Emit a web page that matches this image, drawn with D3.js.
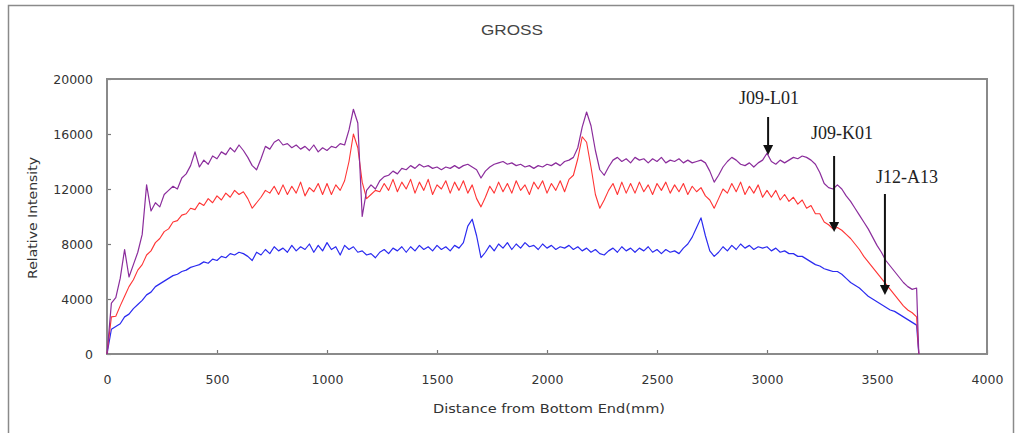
<!DOCTYPE html>
<html>
<head>
<meta charset="utf-8">
<script src="https://cdn.jsdelivr.net/npm/d3@7"></script>
<style>
  body { margin: 0; background: #fff; }
  svg { display: block; }
  .tick text { font-family: "DejaVu Sans", sans-serif; font-size: 12.5px; fill: #333; }
</style>
</head>
<body>
<div id="chart"></div>
<script>
// Distance grid (mm) shared by the three profiles, last sample is the drop at the end
const distance = d3.range(0, 3700, 20).concat([3690]);

// J09-L01 (purple)
const seriesL01 = [
  0, 3700, 4100, 5500, 7600, 5600, 6500, 7400, 8700, 12300,
  10400, 11000, 10700, 11600, 11900, 12200, 12000, 12800, 13100, 13700,
  14700, 13600, 14100, 13800, 14400, 14200, 14700, 14500, 15000, 14700,
  15200, 14800, 14300, 13700, 13400, 14200, 15100, 14900, 15400, 15600,
  15200, 15300, 15000, 15200, 14900, 15100, 14800, 15200, 14700, 15000,
  14800, 15100, 15000, 15300, 15200, 16300, 17800, 16800, 10000, 11900,
  12300, 12000, 12600, 12900, 13000, 13300, 13100, 13500, 13400, 13700,
  13500, 13800, 13600, 13700, 13500, 13600, 13400, 13600, 13500, 13700,
  13500, 13700, 13800, 13600, 13400, 12800, 13300, 13600, 13800, 13900,
  14000, 13800, 13900, 13700, 13800, 13600, 13700, 13500, 13700, 13600,
  13800, 13700, 13900, 13700, 14000, 14100, 14300, 15000, 16500, 17600,
  16600, 14800, 13400, 13000, 13600, 14100, 14300, 14000, 14200, 13900,
  14300, 14100, 14200, 13900, 14200, 14000, 14300, 13900, 14100, 14000,
  14200, 13900, 14100, 13900, 14000, 14100, 13900, 13300, 12500, 13000,
  13600, 14000, 14300, 14100, 13800, 13700, 13900, 13600, 13900, 14100,
  14600, 14000, 13800, 14100, 13900, 14100, 14300, 14200, 14400, 14300,
  14100, 13800, 13200, 12400, 12100, 12000, 12300, 12000, 11500, 11100,
  10600, 10100, 9600, 9100, 8500, 7900, 7400, 6800, 6400, 6000,
  5600, 5200, 4900, 4700, 4800, 0
];

// J09-K01 (red)
const seriesK01 = [
  0, 2700, 2750, 3500, 4200, 4900, 5400, 6100, 6500, 7200,
  7500, 8100, 8400, 8900, 9100, 9600, 9700, 10100, 10200, 10600,
  10500, 11000, 10800, 11300, 11000, 11500, 11200, 11700, 11400, 11900,
  11600, 11800, 11300, 10600, 11000, 11400, 11900, 11700, 12200, 11600,
  12300, 11600, 12200, 11700, 12500, 11500, 12100, 11800, 12400, 11600,
  12400, 11600, 12300, 11900, 12600, 14000, 16000, 15000, 12500, 11300,
  11600, 11900, 11800, 12400, 11900, 12700, 11800, 12500, 12000, 12700,
  11700, 12500, 11900, 12700, 11600, 12300, 12000, 12600, 11700, 12500,
  11900, 12600, 11700, 12300, 11300, 10700, 11400, 12200, 11700, 12500,
  11800, 12400, 11700, 12600, 11900, 12300, 11600, 12500, 12000, 12600,
  11700, 12400, 11900, 12600, 11800, 12700, 13000, 14200, 15800, 15400,
  13600, 11600, 10600, 11200, 11900, 12400, 11600, 12500, 11700, 12400,
  11700, 12500, 11800, 12300, 11600, 12400, 11900, 12500, 11700, 12300,
  11800, 12400, 11600, 12200, 11800, 12100, 11500, 11200, 10600, 11300,
  12000, 11700, 12400, 11800, 12500, 11600, 12200, 11700, 12300, 11400,
  11900, 11400, 11900, 11200, 11600, 11100, 11400, 10900, 11200, 10600,
  10800, 10200, 10200, 9600, 9400, 9100, 9200, 9000, 8700, 8400,
  8000, 7600, 7100, 6700, 6300, 5900, 5500, 5100, 4700, 4300,
  3900, 3500, 3200, 3000, 2700, 0
];

// J12-A13 (blue)
const seriesA13 = [
  0, 1800, 2000, 2200, 2700, 2900, 3300, 3600, 3900, 4300,
  4500, 4900, 5100, 5300, 5500, 5700, 5800, 6000, 6100, 6300,
  6400, 6500, 6700, 6600, 6900, 6800, 7100, 7000, 7300, 7200,
  7400, 7300, 7100, 6800, 7400, 7200, 7600, 7300, 7800, 7500,
  7700, 7400, 7900, 7500, 7800, 7600, 8000, 7400, 7900, 7500,
  8100, 7600, 7800, 7200, 7900, 7600, 7800, 7400, 7500, 7200,
  7300, 7000, 7400, 7600, 7300, 7700, 7500, 7800, 7400, 7800,
  7500, 7900, 7600, 7800, 7500, 7900, 7600, 7800, 7500, 7900,
  7700, 8100, 9300, 9800, 8600, 7000, 7400, 7900, 7500, 8000,
  7700, 8100, 7600, 8000, 7700, 8100, 7800, 7900, 7600, 8000,
  7700, 7900, 7600, 7800, 7700, 7900, 7600, 7800, 7500, 7700,
  7400, 7600, 7300, 7200, 7500, 7700, 7400, 7800, 7500, 7700,
  7400, 7700, 7500, 7800, 7400, 7600, 7300, 7600, 7400, 7500,
  7300, 7700, 8000, 8500, 9200, 9900, 8600, 7500, 7100, 7400,
  7800, 7500, 7900, 7600, 8000, 7700, 7900, 7600, 7800, 7700,
  7800, 7500, 7700, 7400, 7500, 7300, 7300, 7100, 7100, 6900,
  6700, 6500, 6400, 6200, 6100, 6000, 6000, 5800, 5500, 5200,
  5000, 4800, 4500, 4200, 4000, 3800, 3600, 3400, 3200, 3100,
  2900, 2700, 2500, 2300, 2100, 0
];

const xTicks = [0, 500, 1000, 1500, 2000, 2500, 3000, 3500, 4000];
const yTicks = [0, 4000, 8000, 12000, 16000, 20000];

// Arrow labels: text anchor and arrow from/to, in data units
const labels = ["J09-L01", "J09-K01", "J12-A13"];
const labelAt = [[3009, 18180], [3341, 15636], [3636, 12436]];
const arrowFrom = [[3005, 17236], [3305, 14400], [3536, 11636]];
const arrowTo = [[3005, 14473], [3305, 8873], [3536, 4290]];

const W = 1018, H = 433;
const margin = { top: 79, right: 31, bottom: 79, left: 107 };

const svg = d3.select("#chart").append("svg")
    .attr("width", W)
    .attr("height", H);

// outer frame
svg.append("rect")
    .attr("x", 8.5).attr("y", 5.5)
    .attr("width", 1005).attr("height", 460)
    .attr("fill", "none")
    .attr("stroke", "#8a8a8a")
    .attr("stroke-width", 1.5);

const x = d3.scaleLinear()
    .domain([0, 4000])
    .range([margin.left, W - margin.right]);

const y = d3.scaleLinear()
    .domain([0, 20000])
    .range([H - margin.bottom, margin.top]);

// title
svg.append("text")
    .attr("x", 512).attr("y", 35)
    .attr("text-anchor", "middle")
    .attr("textLength", 62)
    .attr("lengthAdjust", "spacingAndGlyphs")
    .style("font-family", "Liberation Sans, Arial, sans-serif")
    .style("font-size", "14px")
    .style("fill", "#444")
    .text("GROSS");

// axes
const xAxis = svg.append("g")
    .attr("transform", `translate(0,${y(0)})`)
    .call(d3.axisBottom(x).tickValues(xTicks).tickFormat(d3.format("d"))
        .tickSize(-4).tickPadding(21).tickSizeOuter(0));

const yAxis = svg.append("g")
    .attr("transform", `translate(${x(0)},0)`)
    .call(d3.axisLeft(y).tickValues(yTicks).tickFormat(d3.format("d"))
        .tickSize(-4).tickPadding(14).tickSizeOuter(0));

[xAxis, yAxis].forEach(g => {
    g.select(".domain").remove();
    g.selectAll(".tick line").attr("stroke", "#777").attr("stroke-width", 1.2);
});

// plot border
svg.append("rect")
    .attr("x", x(0)).attr("y", y(20000))
    .attr("width", x(4000) - x(0))
    .attr("height", y(0) - y(20000))
    .attr("fill", "none")
    .attr("stroke", "#8a8a8a")
    .attr("stroke-width", 2);

// axis titles
svg.append("text")
    .attr("x", 549).attr("y", 413)
    .attr("text-anchor", "middle")
    .attr("textLength", 232)
    .attr("lengthAdjust", "spacingAndGlyphs")
    .style("font-family", "DejaVu Sans, sans-serif")
    .style("font-size", "13px")
    .style("fill", "#333")
    .text("Distance from Bottom End(mm)");

svg.append("text")
    .attr("transform", "translate(37,218) rotate(-90)")
    .attr("text-anchor", "middle")
    .attr("textLength", 122)
    .attr("lengthAdjust", "spacingAndGlyphs")
    .style("font-family", "DejaVu Sans, sans-serif")
    .style("font-size", "13px")
    .style("fill", "#333")
    .text("Relative Intensity");

// profiles
const line = d3.line()
    .x((d, i) => x(distance[i]))
    .y(d => y(d));

const series = [
    { values: seriesA13, color: "#2b2bf0", width: 1.2 },
    { values: seriesK01, color: "#ff3434", width: 1.1 },
    { values: seriesL01, color: "#8b2d9c", width: 1.2 }
];

svg.selectAll(".profile")
    .data(series)
    .enter()
    .append("path")
    .attr("class", "profile")
    .attr("d", d => line(d.values))
    .attr("fill", "none")
    .attr("stroke", d => d.color)
    .attr("stroke-width", d => d.width)
    .attr("stroke-linejoin", "round");

// labels with arrows
labels.forEach((t, i) => {
    svg.append("text")
        .attr("x", x(labelAt[i][0])).attr("y", y(labelAt[i][1]))
        .attr("text-anchor", "middle")
        .style("font-family", "Liberation Serif, Times New Roman, serif")
        .style("font-size", "18px")
        .style("fill", "#222")
        .text(t);

    const x0 = x(arrowFrom[i][0]), y0 = y(arrowFrom[i][1]);
    const y1 = y(arrowTo[i][1]);
    svg.append("line")
        .attr("x1", x0).attr("y1", y0)
        .attr("x2", x0).attr("y2", y1 - 8)
        .attr("stroke", "#111")
        .attr("stroke-width", 2);
    svg.append("path")
        .attr("d", `M${x0 - 5},${y1 - 10}L${x0 + 5},${y1 - 10}L${x0},${y1}Z`)
        .attr("fill", "#111");
});
</script>
</body>
</html>
